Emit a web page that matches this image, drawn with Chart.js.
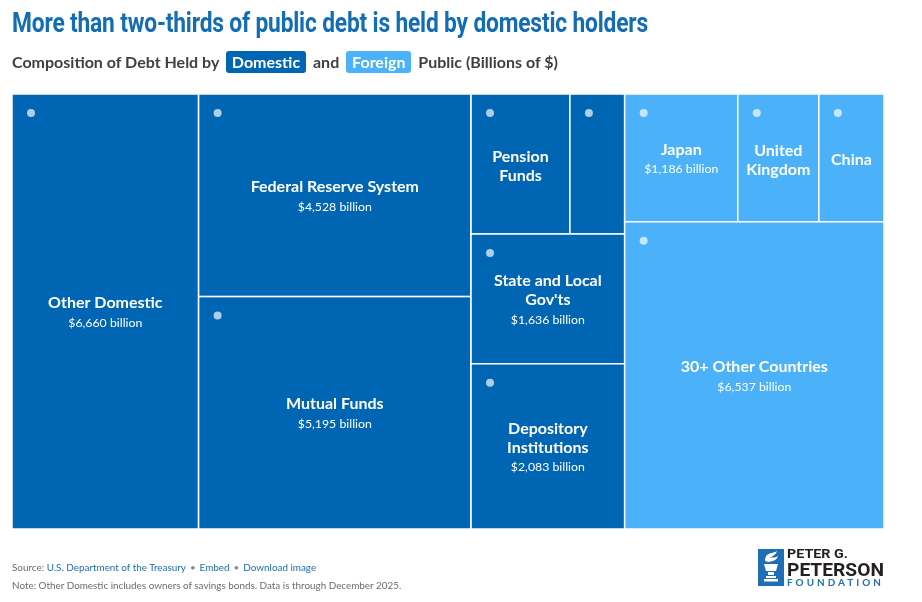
<!DOCTYPE html>
<html>
<head>
<meta charset="utf-8">
<script src="https://cdn.jsdelivr.net/npm/chart.js@4.4.1/dist/chart.umd.min.js"></script>
<style>
  html, body { margin: 0; padding: 0; background: #fff; }
  body { width: 922px; height: 602px; position: relative; overflow: hidden; font-family: Lato, 'Open Sans', sans-serif; }
  #chartBox { position: absolute; left: 0; top: 0; width: 922px; height: 602px; }
  #title { position: absolute; left: 12px; top: 6px; white-space: nowrap; transform-origin: left top;
           font-family: 'Liberation Sans Narrow', Roboto, sans-serif; font-weight: 700; font-size: 28px; color: #136db4; letter-spacing: -0.2px; }
  #subtitle { position: absolute; left: 12px; top: 51px; white-space: nowrap; font-weight: 700; font-size: 16px; color: #3f3f3f; }
  .badge { display: inline-block; color: #fff; padding: 2px 6px 2px 6px; border-radius: 3px; margin: 0 3px; line-height: 18px; }
  .badge.dom { background: #0066b3; }
  .badge.for { background: #4bb1f8; }
  #source, #note { position: absolute; left: 12px; font-size: 9.9px; color: #6b6b6b; white-space: nowrap; }
  #source { top: 561px; }
  #note { top: 579px; }
  #source a { color: #1a6fb0; text-decoration: none; }
  .dot { color: #8a8a8a; margin: 0 4px; }
  #logo { position: absolute; left: 758px; top: 549px; }
  #logoText { position: absolute; left: 787px; top: 548px; font-family: 'Liberation Sans Narrow', Roboto, sans-serif; font-weight: 700; color: #231f20; white-space: nowrap; }
  #logoText div { transform-origin: left top; }
</style>
</head>
<body>
<div id="chartBox"><canvas id="treemapChart"></canvas></div>
<div id="title">More than two-thirds of public debt is held by domestic holders</div>
<div id="subtitle">Composition of Debt Held by <span class="badge dom">Domestic</span> and <span class="badge for">Foreign</span> Public (Billions of $)</div>
<div id="source">Source: <a href="#">U.S. Department of the Treasury</a><span class="dot">•</span><a href="#">Embed</a><span class="dot">•</span><a href="#">Download image</a></div>
<div id="note">Note: Other Domestic includes owners of savings bonds. Data is through December 2025.</div>
<svg id="logo" width="26" height="37" viewBox="0 0 26 37">
  <rect x="0" y="0" width="26" height="37" fill="#1e6fb6"/>
  <path d="M9 6 C13 3 17 4 19 2 C18 6 14 7 12 9 C15 8 18 9 20 7 C19 11 15 12 11 13 C9 13 7 12 7 11 C7 9 8 7 9 6 Z" fill="#fff"/>
  <path d="M6 15 L20 15 L18 22 L8 22 Z" fill="#fff"/>
  <rect x="10" y="23" width="6" height="3" fill="#fff"/>
  <rect x="8" y="27" width="10" height="2" fill="#fff"/>
  <rect x="6" y="30" width="14" height="2.5" fill="#fff"/>
</svg>
<div id="logoText">
  <div id="lt1" style="font-size:12px; line-height:13px;">PETER G.</div>
  <div id="lt2" style="font-size:19px; line-height:17px;">PETERSON</div>
  <div id="lt3" style="font-family:Lato, sans-serif; font-size:8.5px; line-height:10px; color:#1e6fb6; letter-spacing:2.6px; font-weight:700;">FOUNDATION</div>
</div>
<script>
// Datos del treemap
const holders = ['Other Domestic', 'Federal Reserve System', 'Mutual Funds', 'Pension Funds', 'Insurance Companies',
                 "State and Local Gov'ts", 'Depository Institutions', 'Japan', 'United Kingdom', 'China', '30+ Other Countries'];
const holdings = [6660, 4528, 5195, 1136, 629, 1636, 2083, 1186, 850, 683, 6537];
const holderType = ['Domestic', 'Domestic', 'Domestic', 'Domestic', 'Domestic', 'Domestic', 'Domestic',
                    'Foreign', 'Foreign', 'Foreign', 'Foreign'];

// Agrupación de las celdas (índices de holders), con la dirección de corte de cada grupo
const layoutTree = { dir: 'x', children: [
    { dir: 'x', children: [0, { dir: 'y', children: [1, 2] }, { dir: 'y', children: [{ dir: 'x', children: [3, 4] }, 5, 6] }] },
    { dir: 'y', children: [{ dir: 'x', children: [7, 8, 9] }, 10] }
]};

const typeColors = { Domestic: '#0066b3', Foreign: '#4bb1f8' };

function nodeSum(node) {
    if (typeof node === 'number') return holdings[node];
    return node.children.reduce((s, c) => s + nodeSum(c), 0);
}

// Calcular rectángulos en unidades 0..1
function layout(node, x0, y0, x1, y1, out) {
    if (typeof node === 'number') {
        out.push({ index: node, x0, y0, x1, y1 });
        return out;
    }
    const total = nodeSum(node);
    let pos = node.dir === 'x' ? x0 : y0;
    node.children.forEach(child => {
        const share = nodeSum(child) / total;
        if (node.dir === 'x') {
            const w = (x1 - x0) * share;
            layout(child, pos, y0, pos + w, y1, out);
            pos += w;
        } else {
            const h = (y1 - y0) * share;
            layout(child, x0, pos, x1, pos + h, out);
            pos += h;
        }
    });
    return out;
}

const cells = layout(layoutTree, 0, 0, 1, 1, []);

function wrapWords(ctx, text, maxWidth) {
    const words = text.split(' ');
    const lines = [];
    let line = '';
    words.forEach(w => {
        const test = line ? line + ' ' + w : w;
        if (ctx.measureText(test).width <= maxWidth || !line) {
            line = test;
        } else {
            lines.push(line);
            line = w;
        }
    });
    if (line) lines.push(line);
    return lines;
}

const NAME_FONT = "bold 16px Lato, sans-serif";
const VALUE_FONT = "12.3px Lato, sans-serif";

const treemapPlugin = {
    id: 'treemapCells',
    afterDatasetsDraw(chart) {
        const { ctx, scales: { x, y } } = chart;
        ctx.save();
        cells.forEach(c => {
            const left = x.getPixelForValue(c.x0);
            const right = x.getPixelForValue(c.x1);
            const top = y.getPixelForValue(c.y0);
            const bottom = y.getPixelForValue(c.y1);
            const w = right - left, h = bottom - top;

            ctx.fillStyle = typeColors[holderType[c.index]];
            ctx.fillRect(left, top, w, h);
            ctx.strokeStyle = '#ffffff';
            ctx.lineWidth = 1.5;
            ctx.strokeRect(left, top, w, h);

            // punto del marcador
            ctx.fillStyle = 'rgba(255,255,255,0.68)';
            ctx.beginPath();
            ctx.arc(left + 19, top + 19, 4, 0, Math.PI * 2);
            ctx.fill();

            // etiquetas
            ctx.font = NAME_FONT;
            const nameLines = wrapWords(ctx, holders[c.index], w - 10);
            const fits = nameLines.every(l => ctx.measureText(l).width <= w - 10);
            if (!fits) return;
            const valueText = '$' + holdings[c.index].toLocaleString('en-US') + ' billion';
            ctx.font = VALUE_FONT;
            const showValue = ctx.measureText(valueText).width + 32 <= w;

            const total = nameLines.length * 19 + (showValue ? 21 : 0);
            const cx = left + w / 2;
            let ly = top + h / 2 - total / 2 + 9.5 + 2;
            ctx.fillStyle = '#ffffff';
            ctx.textAlign = 'center';
            ctx.textBaseline = 'middle';
            ctx.font = NAME_FONT;
            nameLines.forEach(l => {
                ctx.fillText(l, cx, ly);
                ly += 19;
            });
            if (showValue) {
                ctx.font = VALUE_FONT;
                ctx.fillText(valueText, cx, ly + 1);
            }
        });
        ctx.restore();
    }
};

function initializeChart() {
    const ctx = document.getElementById('treemapChart').getContext('2d');
    new Chart(ctx, {
        type: 'scatter',
        data: {
            datasets: [{
                label: 'Debt Held by the Public',
                data: cells.map(c => ({ x: (c.x0 + c.x1) / 2, y: (c.y0 + c.y1) / 2 })),
                pointRadius: 0,
                pointHoverRadius: 0
            }]
        },
        options: {
            responsive: true,
            maintainAspectRatio: false,
            animation: false,
            layout: { padding: { left: 12, right: 38, top: 94, bottom: 73 } },
            scales: {
                x: { type: 'linear', min: 0, max: 1, display: false },
                y: { type: 'linear', min: 0, max: 1, reverse: true, display: false }
            },
            plugins: {
                legend: { display: false },
                tooltip: { enabled: false }
            }
        },
        plugins: [treemapPlugin]
    });
}

function fitWidth(id, target) {
    const el = document.getElementById(id);
    el.style.display = 'inline-block';
    const w = el.getBoundingClientRect().width;
    el.style.transform = `scaleX(${target / w})`;
}

document.addEventListener('DOMContentLoaded', function () {
    initializeChart();
    fitWidth('title', 636);
    document.getElementById('logoText').style.display = 'block';
    ['lt1', 'lt2', 'lt3'].forEach((id, i) => {
        const el = document.getElementById(id);
        el.style.display = 'inline-block';
        const w = el.getBoundingClientRect().width;
        const target = [61, 97, 97][i];
        el.style.transform = `scaleX(${target / w})`;
        el.style.display = 'block';
        el.style.width = w + 'px';
    });
});
</script>
</body>
</html>
